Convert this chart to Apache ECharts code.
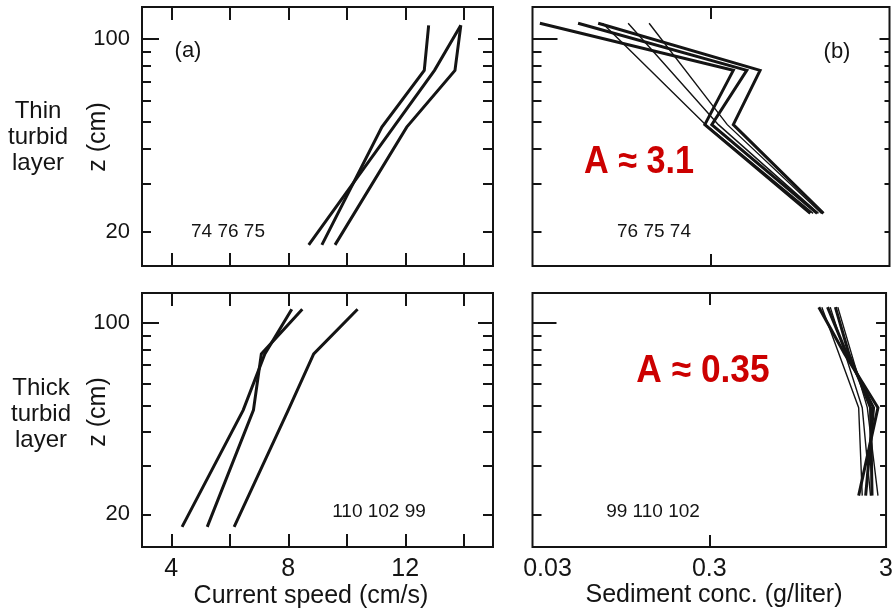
<!DOCTYPE html>
<html>
<head>
<meta charset="utf-8">
<script src="https://cdn.jsdelivr.net/npm/echarts@6/dist/echarts.min.js"></script>
<style>
  html, body { margin: 0; padding: 0; background: #ffffff; }
  #chart { width: 896px; height: 615px; }
</style>
</head>
<body>
<div id="chart"></div>
<script>
// ---- Sensor heights above the bed (cm) ----
const zCurrent   = [112, 77, 48, 18];      // current meters
const zSedFull   = [114, 77, 49, 23.4];    // four-sampler sediment profiles
const zSedShort  = [114, 49, 23.4];        // three-sampler sediment profiles

// ---- Thin turbid layer: current speed (cm/s), runs 74 76 75 ----
const speedRun74 = [12.8, 12.65, 11.2, 9.15];
const speedRun76 = [13.9, 13.0, 11.6, 8.7];
const speedRun75 = [13.9, 13.7, 12.05, 9.6];

// ---- Thick turbid layer: current speed (cm/s), runs 110 102 99 ----
const speedRun110 = [8.12, 7.2, 6.46, 4.37];
const speedRun102 = [8.48, 7.08, 6.81, 5.23];
const speedRun99  = [10.37, 8.87, 8.0, 6.15];

// ---- Thin turbid layer: sediment concentration (g/liter) ----
const concThinFullA  = [0.033, 0.40, 0.277, 1.08];
const concThinFullB  = [0.054, 0.476, 0.303, 1.18];
const concThinFullC  = [0.070, 0.565, 0.40, 1.28];
const concThinShortA = [0.074, 0.28, 1.12];
const concThinShortB = [0.103, 0.33, 1.20];
const concThinShortC = [0.135, 0.37, 1.25];

// ---- Thick turbid layer: sediment concentration (g/liter) ----
const concThickFullA  = [1.25, 1.75, 2.7, 2.1];
const concThickFullB  = [1.4, 1.8, 2.55, 2.3];
const concThickFullC  = [1.55, 1.85, 2.45, 2.5];
const concThickShortA = [1.3, 2.1, 2.2];
const concThickShortB = [1.45, 2.2, 2.45];
const concThickShortC = [1.6, 2.35, 2.7];

// ---- Axis ticks and labels ----
const zMajorTicks  = [100];
const zMinorTicks  = [90, 80, 70, 60, 50, 40, 30, 20];
const zTickLabels  = [100, 20];
const speedTicks   = [4, 6, 8, 10, 12, 14];
const speedLabels  = [4, 8, 12];
const concTicks    = [0.3];
const concLabels   = [0.03, 0.3, 3];

const FONT = '"Liberation Sans", Arial, Helvetica, sans-serif';
const INK = '#141414';
const lg = Math.log10;

const chart = echarts.init(document.getElementById('chart'), null, { renderer: 'canvas' });

// Plot frames: thin-layer row on top, thick-layer row below
const grids = [
  { left: 142,   top: 7,   width: 351, height: 259 },
  { left: 532.5, top: 7,   width: 357, height: 259 },
  { left: 142,   top: 293, width: 351, height: 254 },
  { left: 532.5, top: 293, width: 357, height: 254 }
].map(g => Object.assign(g, { show: true, borderColor: INK, borderWidth: 2, backgroundColor: 'transparent' }));

const zExtentTop = [lg(15.1), lg(130.5)];
const zExtentBottom = [lg(15.2), lg(128.4)];

function tickStyle(len, vals) {
  return { show: true, inside: true, length: len, customValues: vals, lineStyle: { color: INK, width: 2 } };
}

function zAxes(gridIndex, extent, leftMajor, leftMinor, rightMajor, rightMinor, withLabels) {
  const base = {
    type: 'value', gridIndex, min: extent[0], max: extent[1],
    axisLine: { show: false, onZero: false }, splitLine: { show: false }
  };
  return [
    Object.assign({}, base, {
      position: 'left',
      axisTick: tickStyle(leftMajor, zMajorTicks.map(lg)),
      axisLabel: {
        show: withLabels, customValues: zTickLabels.map(lg),
        formatter: v => String(Math.round(Math.pow(10, v))),
        fontSize: 22, color: INK, fontFamily: FONT, margin: 12
      }
    }),
    Object.assign({}, base, { position: 'left', axisTick: tickStyle(leftMinor, zMinorTicks.map(lg)), axisLabel: { show: false } }),
    Object.assign({}, base, { position: 'right', axisTick: tickStyle(rightMajor, zMajorTicks.map(lg)), axisLabel: { show: false } }),
    Object.assign({}, base, { position: 'right', axisTick: tickStyle(rightMinor, zMinorTicks.map(lg)), axisLabel: { show: false } })
  ];
}

const yAxis = [].concat(
  zAxes(0, zExtentTop, 17, 9, 15, 10, true),
  zAxes(1, zExtentTop, 25, 9, 10, 5, false),
  zAxes(2, zExtentBottom, 17, 9, 15, 10, true),
  zAxes(3, zExtentBottom, 24, 9, 10, 6, false)
);

function speedAxis(gridIndex, position, withLabels) {
  return {
    type: 'value', gridIndex, position, min: 3, max: 15,
    axisLine: { show: false, onZero: false }, splitLine: { show: false },
    axisTick: tickStyle(13, speedTicks),
    axisLabel: {
      show: withLabels, customValues: speedLabels,
      fontSize: 25, color: INK, fontFamily: FONT, margin: 10
    }
  };
}

function concAxis(gridIndex, position, withLabels) {
  return {
    type: 'value', gridIndex, position, min: lg(0.03), max: lg(3),
    axisLine: { show: false, onZero: false }, splitLine: { show: false },
    axisTick: tickStyle(12, concTicks.map(lg)),
    axisLabel: {
      show: withLabels, customValues: concLabels.map(lg),
      formatter: v => {
        const s = String(+Math.pow(10, v).toPrecision(2));
        return s === '0.03' ? '{lo|' + s + '}' : s;
      },
      rich: { lo: { fontSize: 25, color: INK, fontFamily: FONT, padding: [0, 0, 0, 30] } },
      fontSize: 25, color: INK, fontFamily: FONT, margin: 10
    }
  };
}

const xAxis = [
  speedAxis(0, 'bottom', false), speedAxis(0, 'top', false),
  concAxis(1, 'bottom', false),  concAxis(1, 'top', false),
  speedAxis(2, 'bottom', true),  speedAxis(2, 'top', false),
  concAxis(3, 'bottom', true),   concAxis(3, 'top', false)
];

function profile(name, grid, xs, zs, logX, width) {
  return {
    type: 'line', name, xAxisIndex: grid * 2, yAxisIndex: grid * 4,
    data: xs.map((x, i) => [logX ? lg(x) : x, lg(zs[i])]),
    symbol: 'none', silent: true, animation: false,
    lineStyle: { color: INK, width: width, join: 'miter' }
  };
}

const series = [
  profile('74', 0, speedRun74, zCurrent, false, 3),
  profile('76', 0, speedRun76, zCurrent, false, 3),
  profile('75', 0, speedRun75, zCurrent, false, 3),

  profile('76', 1, concThinFullA, zSedFull, true, 3),
  profile('75', 1, concThinFullB, zSedFull, true, 3),
  profile('74', 1, concThinFullC, zSedFull, true, 3),
  profile('76', 1, concThinShortA, zSedShort, true, 1.4),
  profile('75', 1, concThinShortB, zSedShort, true, 1.4),
  profile('74', 1, concThinShortC, zSedShort, true, 1.4),

  profile('110', 2, speedRun110, zCurrent, false, 3),
  profile('102', 2, speedRun102, zCurrent, false, 3),
  profile('99',  2, speedRun99,  zCurrent, false, 3),

  profile('99',  3, concThickFullA, zSedFull, true, 3),
  profile('110', 3, concThickFullB, zSedFull, true, 3),
  profile('102', 3, concThickFullC, zSedFull, true, 3),
  profile('99',  3, concThickShortA, zSedShort, true, 1.4),
  profile('110', 3, concThickShortB, zSedShort, true, 1.4),
  profile('102', 3, concThickShortC, zSedShort, true, 1.4)
];

function txt(x, y, text, size, extra) {
  return {
    type: 'text', x, y, silent: true,
    style: Object.assign({
      text, fontSize: size, fontFamily: FONT, fill: INK,
      align: 'center', verticalAlign: 'middle'
    }, extra || {})
  };
}

const graphic = [
  // row titles
  txt(38, 137, 'Thin\nturbid\nlayer', 24, { lineHeight: 26 }),
  txt(41, 414, 'Thick\nturbid\nlayer', 24, { lineHeight: 26 }),
  // vertical axis titles
  Object.assign(txt(98, 137, 'z (cm)', 25), { rotation: Math.PI / 2 }),
  Object.assign(txt(98, 412, 'z (cm)', 25), { rotation: Math.PI / 2 }),
  // horizontal axis titles
  txt(311, 596, 'Current speed (cm/s)', 25),
  txt(714, 595, 'Sediment conc. (g/liter)', 25),
  // panel tags
  txt(188, 51, '(a)', 22),
  txt(837, 52, '(b)', 22),
  // run numbers
  txt(228, 232, '74 76 75', 19),
  txt(654, 232, '76 75 74', 19),
  txt(379, 512, '110 102 99', 19),
  txt(653, 512, '99 110 102', 19),
  // scaling exponents
  Object.assign(txt(639, 163, 'A \u2248 3.1', 38, { fill: '#cc0000', fontWeight: 'bold' }), { scaleX: 0.9 }),
  Object.assign(txt(703, 372, 'A \u2248 0.35', 38, { fill: '#cc0000', fontWeight: 'bold' }), { scaleX: 0.93 })
];

chart.setOption({
  animation: false,
  backgroundColor: '#ffffff',
  grid: grids,
  xAxis,
  yAxis,
  series,
  graphic
});
</script>
</body>
</html>
